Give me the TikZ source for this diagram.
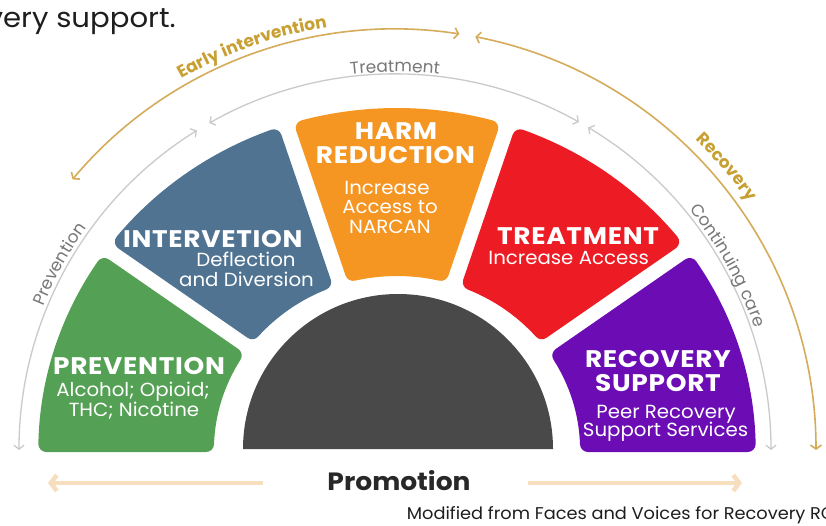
\documentclass[tikz,border=0pt]{standalone}
\usepackage{fontspec}
\setmainfont{Poppins}
\newfontfamily\titlef[FakeStretch=1.1,LetterSpace=3]{Poppins}
\newfontfamily\subf[FakeStretch=1.04]{Poppins}
\newfontfamily\widef[FakeStretch=1.06]{Poppins}
\newfontfamily\creditf[FakeStretch=1.045]{Poppins}
\usetikzlibrary{arrows.meta,decorations.text}
\definecolor{pgreen}{RGB}{84,160,84}
\definecolor{pblue}{RGB}{79,115,145}
\definecolor{porange}{RGB}{245,149,34}
\definecolor{pred}{RGB}{237,28,36}
\definecolor{ppurple}{RGB}{108,12,180}
\definecolor{pdark}{RGB}{73,73,73}
\definecolor{arcgrey}{RGB}{205,200,205}
\definecolor{labgrey}{RGB}{120,120,120}
\definecolor{goldarc}{RGB}{212,172,90}
\definecolor{labgold}{RGB}{200,160,50}
\definecolor{promo}{RGB}{246,222,190}
\definecolor{txt}{RGB}{30,30,30}
\definecolor{promotxt}{RGB}{40,40,40}
\def\rr{8}
\newcommand\segshape[5]{%
 \pgfmathsetmacro\ro{342-\rr}%
 \pgfmathsetmacro\ri{174+\rr}%
 \pgfmathsetmacro\aos{#2-asin((#4+\rr)/\ro)}%
 \pgfmathsetmacro\aoe{#3+asin((#5+\rr)/\ro)}%
 \pgfmathsetmacro\ais{#2-asin((#4+\rr)/\ri)}%
 \pgfmathsetmacro\aie{#3+asin((#5+\rr)/\ri)}%
 \pgfmathsetmacro\lw{2*\rr}%
 \filldraw[fill=#1,draw=#1,line width=\lw pt,line join=round]
   (\aos:\ro pt) arc[start angle=\aos,end angle=\aoe,radius=\ro pt]
   -- (\aie:\ri pt) arc[start angle=\aie,end angle=\ais,radius=\ri pt] -- cycle;}
\begin{document}
\begin{tikzpicture}[x=1pt,y=1pt,
  title/.style={text=white,font=\fontsize{24}{24}\selectfont\titlef\bfseries,inner sep=0pt,anchor=base},
  sub/.style={text=white,font=\fontsize{19}{19}\selectfont\subf,inner sep=0pt,anchor=base},
  greyarc/.style={draw=arcgrey,line width=1.3pt,{Straight Barb[length=4pt,width=10pt]}-{Straight Barb[length=4pt,width=10pt]}},
  goldline/.style={draw=goldarc,line width=1.6pt,{Straight Barb[length=4pt,width=11pt]}-{Straight Barb[length=4pt,width=11pt]}},
  promoarrow/.style={draw=promo,line width=4.5pt,-{Straight Barb[length=6pt,width=16pt]}}]
\useasboundingbox (0,0) rectangle (826,525);
\clip (0,0) rectangle (826,525);
\fill[white] (0,0) rectangle (826,525);
% top text
\node[anchor=base east,inner sep=0pt,text=txt,font=\fontsize{27.5}{27.5}\selectfont\widef] (toptext) at (176,497) {very support.};
% segments
\begin{scope}[shift={(397,75)},xscale=1.05]
\segshape{pgreen}{180}{144}{-2}{7}
\segshape{pblue}{144}{108}{7}{7}
\segshape{porange}{108}{72}{7}{7}
\segshape{pred}{72}{36}{7}{7}
\segshape{ppurple}{36}{0}{7}{-2}
\end{scope}
% dark half disc
\fill[pdark] (243,76) arc[start angle=180,end angle=0,radius=155pt] -- cycle;
% grey and gold arcs with their labels
\begin{scope}[shift={(395,75)}]
\draw[greyarc] (180:376pt) arc[start angle=180,end angle=121.8,radius=376pt];
\draw[greyarc] (119.6:376pt) arc[start angle=119.6,end angle=60.7,radius=376pt];
\draw[greyarc] (59.1:376pt) arc[start angle=59.1,end angle=0,radius=376pt];
\draw[goldline] (140:421pt) arc[start angle=140,end angle=81.2,radius=421pt];
\draw[goldline] (79:421pt) arc[start angle=79,end angle=0,radius=421pt];
\path[decorate,decoration={text along path,text align=center,
  text={|\fontsize{17}{17}\selectfont\color{labgrey}|Prevention}}]
  (172:380pt) arc[start angle=172,end angle=130,radius=380pt];
\path[decorate,decoration={text along path,text align=center,
  text={|\fontsize{17}{17}\selectfont\color{labgrey}|Treatment}}]
  (110:378pt) arc[start angle=110,end angle=70,radius=378pt];
\path[decorate,decoration={text along path,text align=center,
  text={|\fontsize{17}{17}\selectfont\color{labgrey}|Continuing care}}]
  (58:380pt) arc[start angle=58,end angle=0,radius=380pt];
\path[decorate,decoration={text along path,text align=center,
  text={|\fontsize{17}{17}\selectfont\bfseries\color{labgold}|Early intervention}}]
  (140:428pt) arc[start angle=140,end angle=79,radius=428pt];
\path[decorate,decoration={text along path,text align=center,
  text={|\fontsize{17}{17}\selectfont\bfseries\color{labgold}|Recovery}}]
  (62:432pt) arc[start angle=62,end angle=19,radius=432pt];
\end{scope}
% segment texts
\node[title] (prevt) at (139,151) {PREVENTION};
\node[sub] (prev1) at (133,128.3) {Alcohol; Opioid;};
\node[sub] (prev2) at (134,108.3) {THC; Nicotine};
\node[title] (intt) at (212.8,277.7) {INTERVETION};
\node[sub] (int1) at (246,258.3) {Deflection};
\node[sub] (int2) at (246.5,238.3) {and Diversion};
\node[title] (harm1) at (396,385) {HARM};
\node[title] (harm2) at (395.5,361.7) {REDUCTION};
\node[sub] (harm3) at (387,330.7) {Increase};
\node[sub] (harm4) at (390,311) {Access to};
\node[sub] (harm5) at (390,291) {NARCAN};
\node[title] (treat1) at (578,280.7) {TREATMENT};
\node[sub] (treat2) at (568.7,260) {Increase Access};
\node[title] (rec1) at (658,157.7) {RECOVERY};
\node[title] (rec2) at (658,133.3) {SUPPORT};
\node[sub] (rec3) at (666,106.7) {Peer Recovery};
\node[sub] (rec4) at (665.5,88.3) {Support Services};
% promotion
\node[anchor=base,inner sep=0pt,text=promotxt,font=\fontsize{25}{25}\selectfont\widef\bfseries] (promo) at (399,34.3) {Promotion};
\coordinate (pla) at (263,42);
\coordinate (plb) at (48,42);
\coordinate (pra) at (528,42);
\coordinate (prb) at (742,42);
\draw[promoarrow] (pla) -- (plb);
\draw[promoarrow] (pra) -- (prb);
\node[anchor=base west,inner sep=0pt,text=txt,font=\fontsize{17}{17}\selectfont\creditf] (credit) at (406.7,5.7) {Modified from Faces and Voices for Recovery ROSC};
\end{tikzpicture}
\end{document}
